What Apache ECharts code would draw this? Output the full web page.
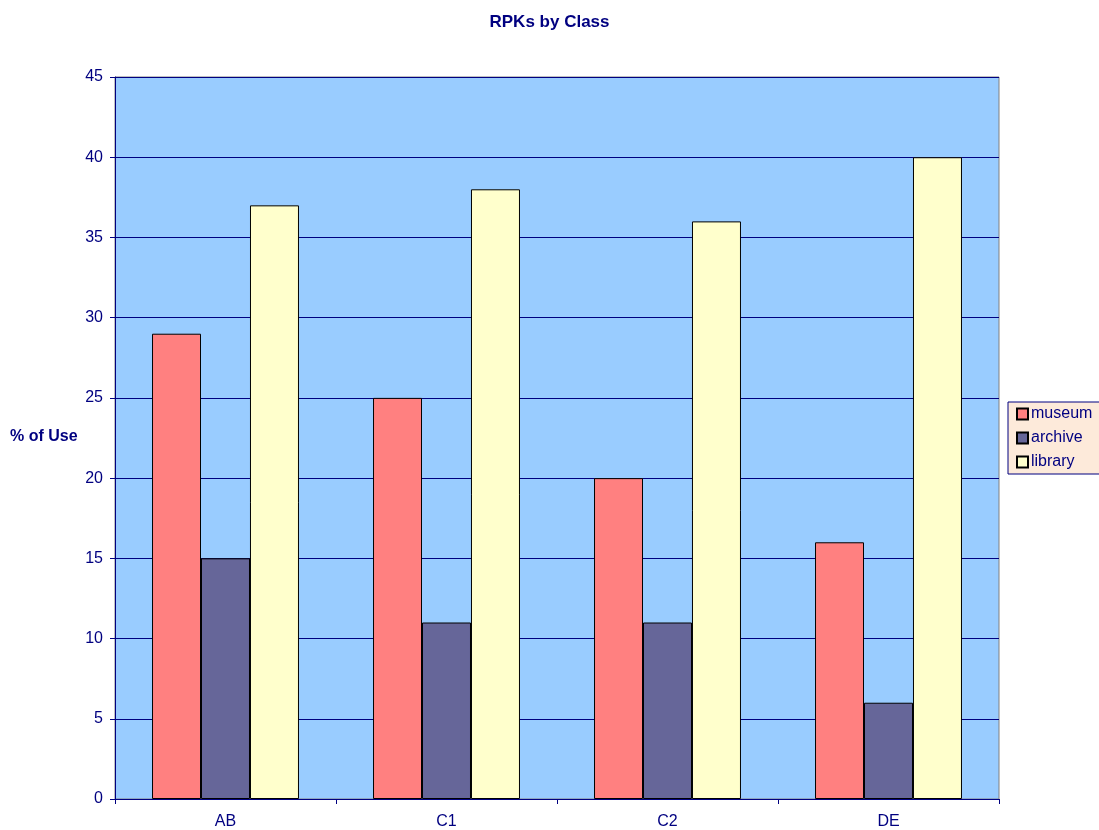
<!DOCTYPE html>
<html>
<head>
<meta charset="utf-8">
<title>RPKs by Class</title>
<script src="https://cdn.jsdelivr.net/npm/echarts@6/dist/echarts.min.js"></script>
<style>
  html, body { margin: 0; padding: 0; background: #fff; }
  #chart { width: 1099px; height: 830px; }
</style>
</head>
<body>
<div id="chart"></div>
<script>
// data
var classes = ['AB', 'C1', 'C2', 'DE'];
var museum = [29, 25, 20, 16];
var archive = [15, 11, 11, 6];
var library = [37, 38, 36, 40];

var navy = '#000080';
var font = 'Liberation Sans, Arial, sans-serif';

function bar(name, data, color) {
  return {
    name: name,
    type: 'bar',
    data: data,
    barGap: 0,
    barCategoryGap: '33.5%',
    itemStyle: { color: color, borderColor: '#000', borderWidth: 1 }
  };
}

var chart = echarts.init(document.getElementById('chart'));
chart.setOption({
  animation: false,
  title: {
    text: 'RPKs by Class',
    left: 'center',
    top: 9,
    textStyle: { color: navy, fontSize: 17, fontWeight: 'bold', fontFamily: font }
  },
  graphic: [{
    type: 'text',
    left: 10,
    top: 429,
    style: { text: '% of Use', fill: navy, font: 'bold 16px ' + font }
  }],
  legend: {
    orient: 'vertical',
    left: 1008,
    top: 402,
    icon: 'rect',
    itemWidth: 11,
    itemHeight: 11,
    itemGap: 8,
    padding: [4, 10, 4, 8],
    backgroundColor: '#FDEADA',
    borderColor: navy,
    borderWidth: 1,
    borderRadius: 0,
    textStyle: { color: navy, fontSize: 16, fontFamily: font, padding: [0, 0, 0, -2] },
    data: ['museum', 'archive', 'library']
  },
  grid: {
    left: 115, right: 100, top: 77, bottom: 31,
    show: true,
    backgroundColor: '#99CCFF',
    borderColor: '#808080',
    borderWidth: 1
  },
  xAxis: {
    type: 'category',
    data: classes,
    axisLine: { lineStyle: { color: navy, width: 1 } },
    axisTick: { show: true, length: 5, lineStyle: { color: navy } },
    axisLabel: { color: navy, fontSize: 16, fontFamily: font, margin: 15 }
  },
  yAxis: {
    type: 'value',
    min: 0, max: 45, interval: 5,
    axisLine: { show: true, lineStyle: { color: navy, width: 1 } },
    axisTick: { show: true, length: 5, lineStyle: { color: navy } },
    axisLabel: { color: navy, fontSize: 16, fontFamily: font, margin: 12 },
    splitLine: { lineStyle: { color: navy, width: 1 } }
  },
  series: [
    bar('museum', museum, '#FF8080'),
    bar('archive', archive, '#666699'),
    bar('library', library, '#FFFFCC')
  ]
});
</script>
</body>
</html>
